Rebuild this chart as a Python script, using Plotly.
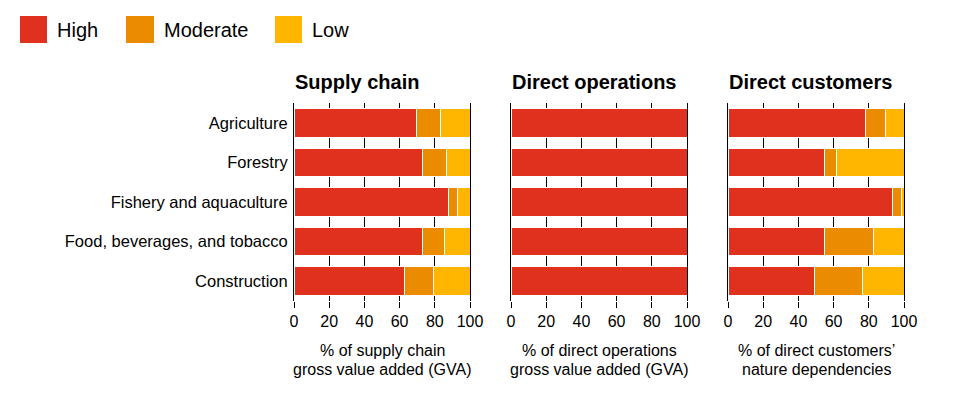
import plotly.graph_objects as go

categories = ["Agriculture", "Forestry", "Fishery and aquaculture",
              "Food, beverages, and tobacco", "Construction"]
levels = ["High", "Moderate", "Low"]
colors = ["#E0301E", "#EB8C00", "#FFB600"]
panel_titles = ["Supply chain", "Direct operations", "Direct customers"]
axis_title_lines = [["% of supply chain", "gross value added (GVA)"],
                    ["% of direct operations", "gross value added (GVA)"],
                    ["% of direct customers’", "nature dependencies"]]
tick_values = [0, 20, 40, 60, 80, 100]

supply_high = [69.7, 73.1, 87.9, 73.1, 62.9]
supply_moderate = [13.8, 13.3, 5.1, 12.5, 16.5]
supply_low = [16.5, 13.6, 7.0, 14.4, 20.6]

operations_high = [100, 100, 100, 100, 100]
operations_moderate = [0, 0, 0, 0, 0]
operations_low = [0, 0, 0, 0, 0]

customers_high = [78.4, 54.6, 93.2, 54.6, 49.0]
customers_moderate = [11.0, 6.9, 5.3, 27.9, 27.3]
customers_low = [10.6, 38.5, 1.5, 17.5, 23.7]

panels = [
    [supply_high, supply_moderate, supply_low],
    [operations_high, operations_moderate, operations_low],
    [customers_high, customers_moderate, customers_low],
]

W, H = 973, 396
FONT = "Liberation Sans, Arial, Helvetica, sans-serif"


def px(x):
    return x / W


def py(y):
    return 1 - y / H


x_domains = [(294, 470), (511, 687), (728, 904)]
y_dom = [py(300.75), py(103.25)]

fig = go.Figure()
for i, series in enumerate(panels):
    xa = "x" if i == 0 else f"x{i+1}"
    ya = "y" if i == 0 else f"y{i+1}"
    for lvl, vals, col in zip(levels, series, colors):
        fig.add_trace(go.Bar(
            y=categories, x=vals, name=lvl, orientation="h",
            marker=dict(color=col, line=dict(color="white", width=1)),
            xaxis=xa, yaxis=ya, showlegend=False,
        ))

layout = dict(
    width=W, height=H, template="none",
    margin=dict(l=0, r=0, t=0, b=0),
    paper_bgcolor="white", plot_bgcolor="white",
    barmode="stack", bargap=0.27,
    font=dict(family=FONT, color="#000000", size=16),
    showlegend=False,
)
for i in range(3):
    xk = "xaxis" if i == 0 else f"xaxis{i+1}"
    yk = "yaxis" if i == 0 else f"yaxis{i+1}"
    ya = "y" if i == 0 else f"y{i+1}"
    xa = "x" if i == 0 else f"x{i+1}"
    layout[xk] = dict(
        domain=[px(x_domains[i][0]), px(x_domains[i][1])], anchor=ya,
        range=[0, 100], tickvals=tick_values, showgrid=True,
        gridcolor="#000000", gridwidth=1, zeroline=False, showline=False,
        ticks="outside", ticklen=6, tickcolor="#000000", tickwidth=1,
        tickfont=dict(size=16, family=FONT, color="#000000"),
        automargin=False, fixedrange=True,
    )
    layout[yk] = dict(
        domain=y_dom, anchor=xa, type="category",
        categoryorder="array", categoryarray=categories,
        range=[4.5, -0.5], showgrid=False, zeroline=False,
        showline=True, mirror=True, linecolor="#000000", linewidth=1,
        ticks="", showticklabels=(i == 0), ticklabelstandoff=2,
        tickfont=dict(size=16.5, family=FONT, color="#000000"),
        automargin=False, fixedrange=True,
    )
fig.update_layout(**layout)

annotations = []
shapes = []
for i in range(3):
    x0, x1 = x_domains[i]
    annotations.append(dict(
        text=f"<b>{panel_titles[i]}</b>", xref="paper", yref="paper",
        x=px(x0 - 1), y=py(82), xanchor="left", yanchor="middle",
        showarrow=False, font=dict(size=20, family=FONT, color="#000000")))
    for line_text, yc in zip(axis_title_lines[i], [350, 369.5]):
        annotations.append(dict(
            text=line_text, xref="paper", yref="paper",
            x=px((x0 + x1) / 2), y=py(yc), xanchor="center", yanchor="middle",
            showarrow=False, align="center",
            font=dict(size=16, family=FONT, color="#000000")))

legend_boxes = [(20, 47), (126, 154), (275, 302)]
legend_text_x = [57, 164, 312]
for lvl, col, (bx0, bx1), tx in zip(levels, colors, legend_boxes, legend_text_x):
    shapes.append(dict(type="rect", xref="paper", yref="paper",
                       x0=px(bx0), x1=px(bx1), y0=py(43), y1=py(16),
                       fillcolor=col, line=dict(width=0)))
    annotations.append(dict(
        text=lvl, xref="paper", yref="paper", x=px(tx - 2), y=py(29.5),
        xanchor="left", yanchor="middle", showarrow=False,
        font=dict(size=20, family=FONT, color="#000000")))

fig.update_layout(annotations=annotations, shapes=shapes)
fig.write_html("out.html",
               config={"displayModeBar": False},
               post_script="document.body.style.margin='0';")
